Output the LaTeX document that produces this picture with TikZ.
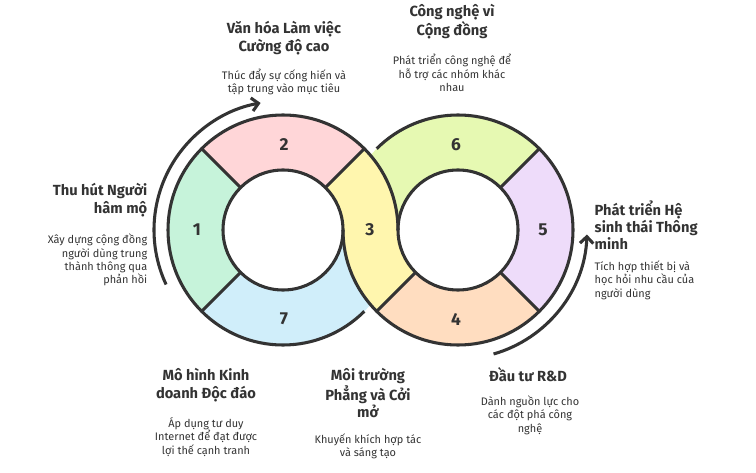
\documentclass[tikz,border=0pt]{standalone}
\usepackage{fontspec}
\setmainfont{Fira Sans}
\usetikzlibrary{arrows.meta}

\definecolor{ink}{HTML}{333333}
\definecolor{cPink}{HTML}{FFD6D8}
\definecolor{cMint}{HTML}{C6F3DA}
\definecolor{cSky}{HTML}{D0EEFA}
\definecolor{cLemon}{HTML}{FFF6AE}
\definecolor{cLime}{HTML}{E6F9B2}
\definecolor{cLilac}{HTML}{EEDCFA}
\definecolor{cPeach}{HTML}{FFDDC0}

% sector of a ring: centre, start angle, end angle, colour
\newcommand{\ringseg}[4]{\fill[#4,shift={(#1)}] (#2:115) arc[start angle=#2,end angle=#3,radius=115] -- (#3:60) arc[start angle=#3,end angle=#2,radius=60] -- cycle;}

\begin{document}
\begin{tikzpicture}[x=0.75pt,y=0.75pt,
	Outline/.style	= {ink, line width=2.3pt},
	Num/.style	= {font=\bfseries\fontsize{13}{13}\selectfont, text=ink},
	Title/.style	= {font=\bfseries\fontsize{11}{13}\selectfont, text=ink, align=center},
	Desc/.style	= {font=\fontsize{8.2}{10}\selectfont, text=ink, align=center},
	Loop/.style	= {ink, line width=2.3pt, -{Straight Barb[length=5pt,width=10pt]}}]
	\useasboundingbox (0,0) rectangle (756,472);

	\coordinate (cl) at (283,242);
	\coordinate (cr) at (458,242);

	% coloured bands
	\ringseg{cl}{45}{135}{cPink}
	\ringseg{cl}{135}{225}{cMint}
	\ringseg{cl}{225}{360}{cSky}
	\ringseg{cr}{45}{180}{cLime}
	\ringseg{cr}{-45}{45}{cLilac}
	\ringseg{cr}{225}{315}{cPeach}
	\ringseg{cl}{0}{45}{cLemon}
	\ringseg{cr}{180}{225}{cLemon}

	% outlines
	\draw[Outline] (cl) circle[radius=60];
	\draw[Outline] (cr) circle[radius=60];
	\draw[Outline,shift={(cl)}] (0:115) arc[start angle=0,end angle=315,radius=115];
	\draw[Outline,shift={(cr)}] (180:115) arc[start angle=180,end angle=495,radius=115];
	\foreach \a in {45,135,225} \draw[Outline,shift={(cl)}] (\a:60) -- (\a:115);
	\foreach \a in {45,-45,225} \draw[Outline,shift={(cr)}] (\a:60) -- (\a:115);

	% loop arrows
	\draw[Loop,shift={(cl)}] (205:129) arc[start angle=205,end angle=100,radius=129];
	\draw[Loop,shift={(cr)}] (-74:129) arc[start angle=-74,end angle=-2,radius=129];

	% numbers
	\node[Num] (n1) at (197,242) {1};
	\node[Num] (n2) at (284,327) {2};
	\node[Num] (n7) at (284,153) {7};
	\node[Num] (n3) at (370,242) {3};
	\node[Num] (n6) at (456,327) {6};
	\node[Num] (n5) at (543,242) {5};
	\node[Num] (n4) at (456,153) {4};

	% labels
	\node[Title] (t2) at (284,434) {Văn hóa Làm việc\\Cường độ cao};
	\node[Desc] (d2) at (284,390) {Thúc đẩy sự cống hiến và\\tập trung vào mục tiêu};
	\node[Title] (t6) at (452,450) {Công nghệ vì\\Cộng đồng};
	\node[Desc] (d6) at (452,399) {Phát triển công nghệ để\\hỗ trợ các nhóm khác\\nhau};
	\node[Title,align=right,anchor=east] (t1) at (152,272) {Thu hút Người\\hâm mộ};
	\node[Desc,align=right,anchor=east] (d1) at (152,212) {Xây dựng cộng đồng\\người dùng trung\\thành thông qua\\phản hồi};
	\node[Title,align=left,anchor=west] (t5) at (590,247) {Phát triển Hệ\\sinh thái Thông\\minh};
	\node[Desc,align=left,anchor=west] (d5) at (590,192) {Tích hợp thiết bị và\\học hỏi nhu cầu của\\người dùng};
	\node[Title] (t7) at (206,87) {Mô hình Kinh\\doanh Độc đáo};
	\node[Desc] (d7) at (206,35) {Áp dụng tư duy\\Internet để đạt được\\lợi thế cạnh tranh};
	\node[Title] (t3) at (368,79) {Môi trường\\Phẳng và Cởi\\mở};
	\node[Desc] (d3) at (368,26) {Khuyến khích hợp tác\\và sáng tạo};
	\node[Title] (t4) at (528,97) {Đầu tư R\&D};
	\node[Desc] (d4) at (530,57) {Dành nguồn lực cho\\các đột phá công\\nghệ};
\end{tikzpicture}
\end{document}
